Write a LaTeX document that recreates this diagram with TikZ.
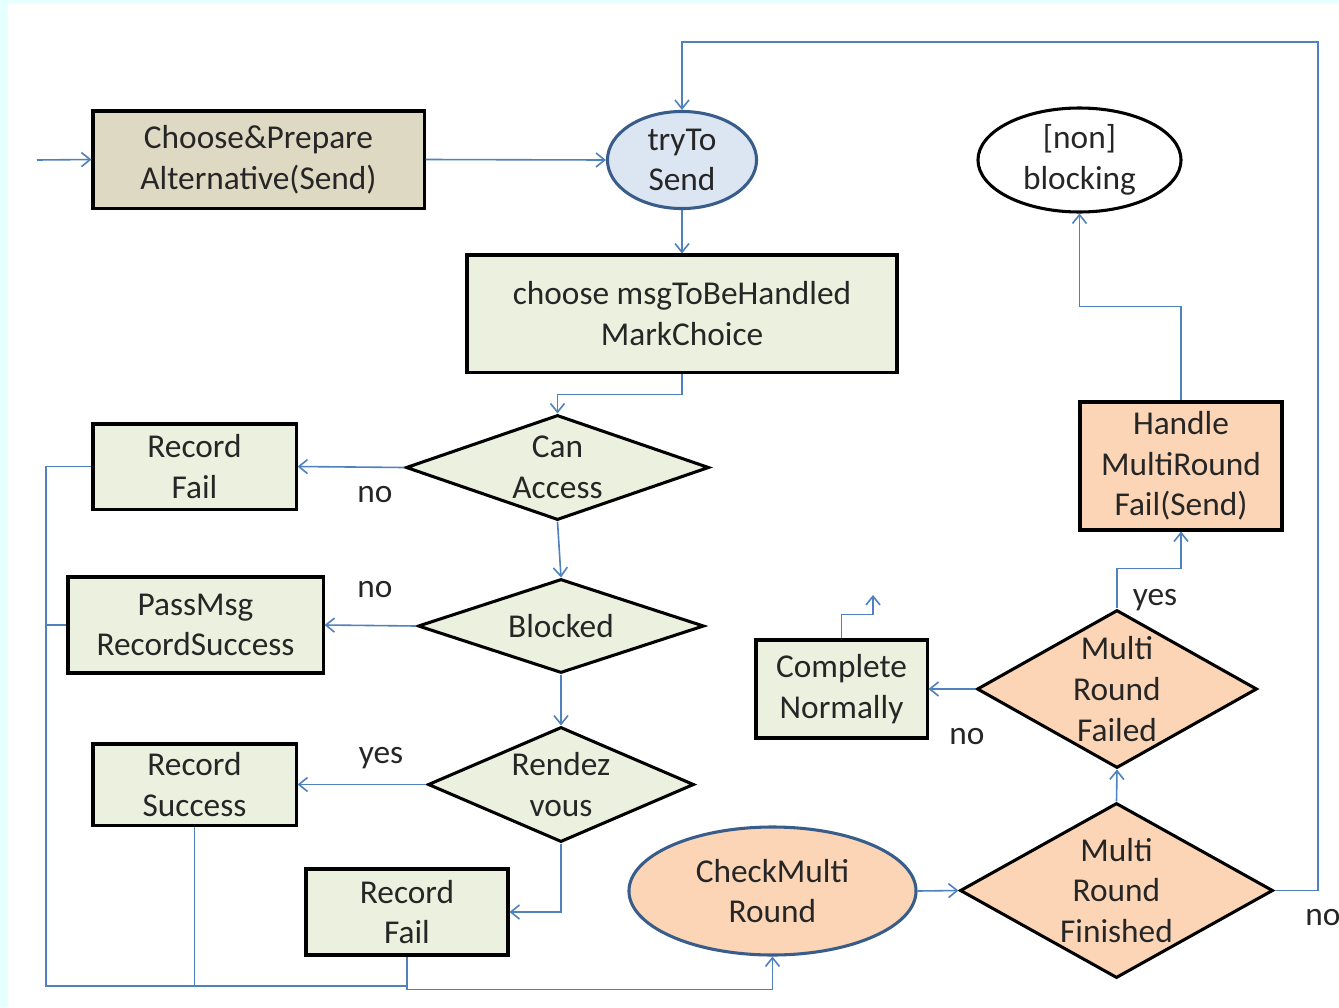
\documentclass[tikz,border=0pt]{standalone}
\usepackage{fontspec}
\setmainfont{Carlito}
\usetikzlibrary{shapes.geometric,arrows.meta}

\definecolor{pagecyan}{RGB}{230,255,255}
\definecolor{tanfill}{RGB}{221,217,195}
\definecolor{greenfill}{RGB}{235,241,222}
\definecolor{bluefill}{RGB}{220,230,242}
\definecolor{peachfill}{RGB}{251,213,181}
\definecolor{rimblue}{RGB}{56,93,138}
\definecolor{lineblue}{RGB}{79,129,189}

\tikzset{
  txt/.style={font=\fontsize{25}{30.5}\selectfont, align=center, inner sep=0pt, text=black!85},
  box/.style={txt, rectangle, draw=black, line width=2.3pt},
  decision/.style={txt, diamond, draw=black, line width=2.3pt, inner xsep=0pt, inner ysep=-8pt},
  oval/.style={txt, ellipse, line width=2.3pt},
  wire/.style={draw=lineblue, line width=1.2pt},
  conn/.style={wire, -{Straight Barb[length=6.5pt,width=10.5pt]}},
  lbl/.style={font=\fontsize{25}{30.5}\selectfont, inner sep=0pt, text=black!85}
}

\begin{document}
\begin{tikzpicture}[x=0.75pt,y=-0.75pt]
  % page
  \fill[pagecyan] (0,0) rectangle (1339,1007);
  \fill[white] (8,4) rectangle (1339,1007);
  \useasboundingbox (0,0) rectangle (1339,1007);

  % nodes
  \node[box, fill=tanfill, minimum width=248.3pt, minimum height=72.8pt] (cp) at (258.5,159.5) {Choose\&Prepare\\Alternative(Send)};
  \node[oval, draw=rimblue, fill=bluefill, minimum width=111.8pt, minimum height=72.8pt] (ts) at (682,160) {tryTo\\Send};
  \node[box, fill=greenfill, minimum width=322.5pt, minimum height=87.8pt] (msg) at (682,313.5) {choose msgToBeHandled\\MarkChoice};
  \node[decision, fill=greenfill, shape aspect=2.9, minimum width=227.3pt, minimum height=78.8pt] (can) at (557.5,467.5) {Can\\Access};
  \node[box, fill=greenfill, minimum width=152.3pt, minimum height=63.8pt] (rf1) at (194.5,466.5) {Record\\Fail};
  \node[decision, fill=greenfill, shape aspect=3.04, minimum width=214.5pt, minimum height=70.5pt] (blk) at (561,626) {Blocked};
  \node[box, fill=greenfill, minimum width=191.3pt, minimum height=72pt] (pm) at (195.5,625) {PassMsg\\RecordSuccess};
  \node[decision, fill=greenfill, shape aspect=2.31, minimum width=199.5pt, minimum height=86.3pt] (rv) at (561,784.5) {Rendez\\vous};
  \node[box, fill=greenfill, minimum width=152.3pt, minimum height=60.8pt] (rs) at (194.5,784.5) {Record\\Success};
  \node[box, fill=greenfill, minimum width=151.5pt, minimum height=64.5pt] (rf2) at (407,912) {Record\\Fail};
  \node[oval, draw=rimblue, fill=peachfill, minimum width=215.3pt, minimum height=96pt] (cm) at (772.5,891) {CheckMulti\\Round};
  \node[decision, fill=peachfill, shape aspect=1.79, minimum width=234.8pt, minimum height=131.3pt] (mrfin) at (1116.5,890.5) {Multi\\Round\\Finished};
  \node[decision, fill=peachfill, shape aspect=1.77, minimum width=210pt, minimum height=118.5pt] (mrfail) at (1117,689) {Multi\\Round\\Failed};
  \node[box, fill=greenfill, minimum width=128.3pt, minimum height=73.5pt] (cn) at (841.5,689) {Complete\\Normally};
  \node[box, fill=peachfill, minimum width=151.5pt, minimum height=96pt] (hd) at (1181,466) {Handle\\MultiRound\\Fail(Send)};
  \node[oval, draw=black, fill=white, minimum width=152.3pt, minimum height=78pt] (nb) at (1079.5,160) {[non]\\blocking};

  % free ends and bends
  \coordinate (entry) at (37,160);
  \coordinate (loopR) at (1318,42);
  \coordinate (busL) at (46,986);
  \coordinate (cnend) at (873,595);

  % connectors
  \draw[conn] (entry) -- (cp.west);
  \draw[conn] (cp.east) -- (ts.west);
  \draw[conn] (mrfin.east) -| (loopR) -| (ts.north);
  \draw[conn] (ts.south) -- (msg.north);
  \draw[conn] (msg.south) -- ++(0,21) -| (can.north);
  \draw[conn] (can.west) -- (rf1.east);
  \draw[conn] (can.south) -- (blk.north);
  \draw[conn] (blk.west) -- (pm.east);
  \draw[conn] (blk.south) -- (rv.north);
  \draw[conn] (rv.west) -- (rs.east);
  \draw[conn] (rv.south) |- (rf2.east);
  \draw[wire] (rf1.west) -| (busL) -- (rf2.south |- busL);
  \draw[wire] (pm.west) -- (pm.west -| busL);
  \draw[wire] (rs.south) -- (rs.south |- busL);
  \draw[conn] (rf2.south) -- ++(0,33) -| (cm.south);
  \draw[conn] (cm.east) -- (mrfin.west);
  \draw[conn] (mrfin.north) -- (mrfail.south);
  \draw[conn] (mrfail.west) -- (cn.east);
  \draw[conn] (mrfail.north) -- ++(0,-40) -| (hd.south);
  \draw[conn] (hd.north) -- ++(0,-94) -| (nb.south);
  \draw[conn] (cn.north) -- ++(0,-24) -| (cnend);

  % branch labels
  \node[lbl] (l1) at (375,495) {no};
  \node[lbl] (l2) at (375,590) {no};
  \node[lbl] (l3) at (381,758) {yes};
  \node[lbl] (l4) at (967,737) {no};
  \node[lbl] (l5) at (1155,600) {yes};
  \node[lbl] (l6) at (1323,918) {no};
\end{tikzpicture}
\end{document}
